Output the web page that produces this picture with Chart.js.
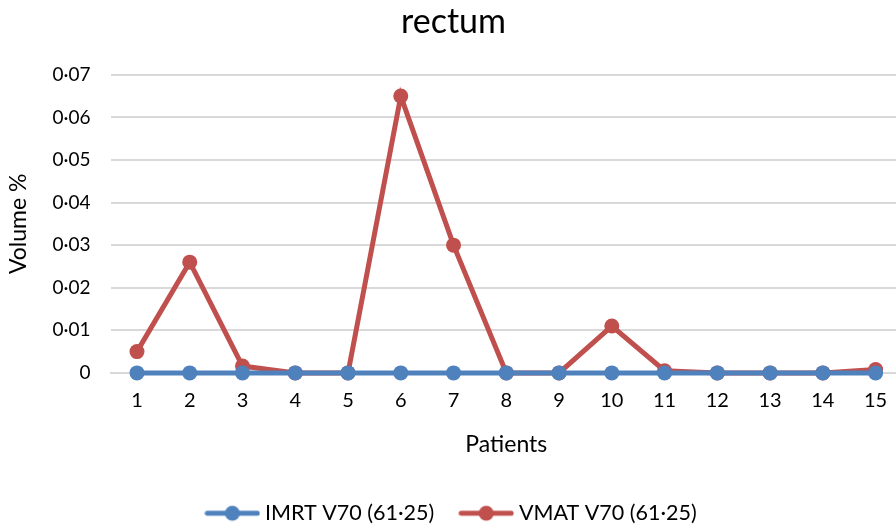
<!DOCTYPE html>
<html>
<head>
<meta charset="utf-8">
<script src="https://cdn.jsdelivr.net/npm/chart.js@4"></script>
<style>
  body { margin: 0; background: #fff; overflow: hidden; }
  #wrap { width: 902px; height: 530px; }
</style>
</head>
<body>
<div id="wrap"><canvas id="myChart"></canvas></div>
<script>
// Données
const patients = ['1', '2', '3', '4', '5', '6', '7', '8', '9', '10', '11', '12', '13', '14', '15'];
const imrtV70 = [0, 0, 0, 0, 0, 0, 0, 0, 0, 0, 0, 0, 0, 0, 0];
const vmatV70 = [0.005, 0.026, 0.0016, 0, 0, 0.065, 0.03, 0, 0, 0.011, 0.0005, 0, 0, 0, 0.0008];
const yTicks = [0, 0.01, 0.02, 0.03, 0.04, 0.05, 0.06, 0.07];

const blue = '#4F81BD';
const red = '#C0504D';
const font = 'Lato, "Liberation Sans", sans-serif';

// petite image ligne + point pour la légende
function legendIcon(color) {
    const c = document.createElement('canvas');
    c.width = 56;
    c.height = 18;
    const g = c.getContext('2d');
    g.strokeStyle = color;
    g.lineWidth = 5;
    g.lineCap = 'round';
    g.beginPath();
    g.moveTo(3, 9);
    g.lineTo(53, 9);
    g.stroke();
    g.fillStyle = color;
    g.beginPath();
    g.arc(28, 9, 7.5, 0, Math.PI * 2);
    g.fill();
    return c;
}

const ctx = document.getElementById('myChart').getContext('2d');
new Chart(ctx, {
    type: 'line',
    data: {
        labels: patients,
        datasets: [
            {
                label: 'IMRT V70 (61·25)',
                data: imrtV70,
                borderColor: blue,
                backgroundColor: blue,
                borderWidth: 5,
                pointRadius: 7.5,
                pointHoverRadius: 7.5,
                pointBorderWidth: 0,
                clip: false,
                legendIcon: legendIcon(blue)
            },
            {
                label: 'VMAT V70 (61·25)',
                data: vmatV70,
                borderColor: red,
                backgroundColor: red,
                borderWidth: 5,
                pointRadius: 7.5,
                pointHoverRadius: 7.5,
                pointBorderWidth: 0,
                clip: false,
                legendIcon: legendIcon(red)
            }
        ]
    },
    options: {
        responsive: true,
        maintainAspectRatio: false,
        animation: false,
        layout: { autoPadding: false, padding: { left: 5, right: 0, top: 0, bottom: -4 } },
        scales: {
            x: {
                offset: true,
                afterFit: s => { s.paddingLeft = 0; s.paddingRight = 0; },
                grid: { display: false },
                border: { color: '#D9D9D9', width: 2 },
                ticks: { color: '#000', font: { family: font, size: 20 }, padding: 8 },
                title: { display: true, text: 'Patients', color: '#000', font: { family: font, size: 23 }, padding: { top: 10, bottom: 14 } }
            },
            y: {
                min: 0,
                max: 0.07,
                afterBuildTicks: axis => { axis.ticks = yTicks.map(v => ({ value: v })); },
                grid: { color: '#D9D9D9', lineWidth: 2, drawTicks: false },
                border: { display: false },
                ticks: {
                    color: '#000',
                    font: { family: font, size: 19 },
                    padding: 20,
                    callback: v => v === 0 ? '0' : v.toFixed(2).replace('.', '·')
                },
                title: { display: true, text: 'Volume %', color: '#000', font: { family: font, size: 23 }, padding: { top: 0, bottom: 0 } }
            }
        },
        plugins: {
            title: {
                display: true,
                text: 'rectum',
                color: '#000',
                font: { family: font, size: 34, weight: 'normal' },
                padding: { top: 2, bottom: 32 }
            },
            legend: {
                position: 'bottom',
                labels: {
                    usePointStyle: true,
                    pointStyleWidth: 44,
                    boxHeight: 18,
                    color: '#000',
                    padding: 30,
                    font: { family: font, size: 21.5 },
                    generateLabels: chart => chart.data.datasets.map((ds, i) => ({
                        text: ds.label,
                        pointStyle: ds.legendIcon,
                        fillStyle: ds.borderColor,
                        strokeStyle: ds.borderColor,
                        lineWidth: 0,
                        hidden: false,
                        datasetIndex: i,
                        fontColor: '#000'
                    }))
                }
            },
            tooltip: { enabled: false }
        }
    }
});
</script>
</body>
</html>
